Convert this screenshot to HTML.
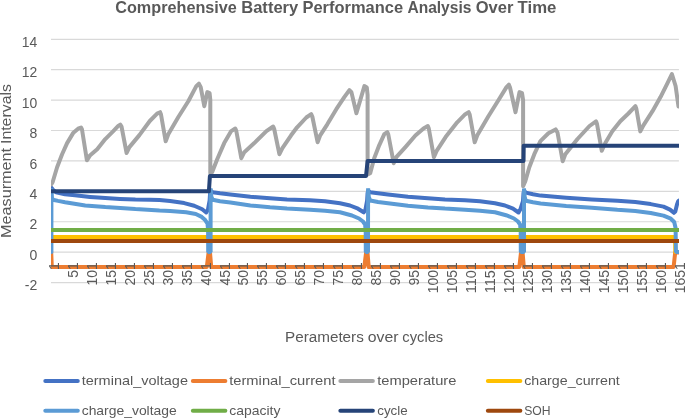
<!DOCTYPE html>
<html lang="en"><head><meta charset="utf-8"><title>Comprehensive Battery Performance Analysis Over Time</title>
<style>html,body{margin:0;padding:0;background:#fff}.t{font-family:"Liberation Sans",sans-serif}body{width:685px;height:418px;overflow:hidden}</style></head>
<body>
<svg width="685" height="418" viewBox="0 0 685 418" style="display:block">
<rect width="685" height="418" fill="#fff"/>
<line x1="51.0" x2="678.9" y1="282.56" y2="282.56" stroke="#D9D9D9" stroke-width="1.2"/>
<line x1="51.0" x2="678.9" y1="252.15" y2="252.15" stroke="#D9D9D9" stroke-width="1.2"/>
<line x1="51.0" x2="678.9" y1="221.74" y2="221.74" stroke="#D9D9D9" stroke-width="1.2"/>
<line x1="51.0" x2="678.9" y1="191.33" y2="191.33" stroke="#D9D9D9" stroke-width="1.2"/>
<line x1="51.0" x2="678.9" y1="160.92" y2="160.92" stroke="#D9D9D9" stroke-width="1.2"/>
<line x1="51.0" x2="678.9" y1="130.51" y2="130.51" stroke="#D9D9D9" stroke-width="1.2"/>
<line x1="51.0" x2="678.9" y1="100.10" y2="100.10" stroke="#D9D9D9" stroke-width="1.2"/>
<line x1="51.0" x2="678.9" y1="69.69" y2="69.69" stroke="#D9D9D9" stroke-width="1.2"/>
<line x1="51.0" x2="678.9" y1="39.28" y2="39.28" stroke="#D9D9D9" stroke-width="1.2"/>
<clipPath id="pc"><rect x="51.0" y="30" width="627.9" height="260"/></clipPath>
<g clip-path="url(#pc)" fill="none" stroke-linejoin="round" stroke-linecap="round">
<path d="M51.2,187.5 L53.0,189.8 L56.0,192.2 L65.0,194.2 L75.0,195.3 L90.0,196.9 L98.0,197.6 L105.3,198.1 L120.0,198.9 L135.4,199.5 L150.0,199.7 L159.5,200.1 L170.1,201.1 L184.2,203.1 L194.2,205.7 L202.2,209.3 L206.2,212.5 L207.9,209.9 L209.6,200.6 L210.1,193.0 L210.7,190.8 L212.7,192.2 L220.0,193.3 L230.4,194.5 L250.4,196.7 L270.0,198.3 L287.0,199.5 L310.0,200.3 L325.0,201.3 L340.0,203.2 L350.0,205.5 L358.0,208.7 L363.7,212.3 L365.4,209.9 L367.1,200.6 L367.6,193.0 L368.2,190.8 L370.2,192.2 L378.0,193.3 L388.0,194.5 L408.0,196.7 L428.0,198.3 L445.0,199.5 L465.0,200.3 L480.0,201.3 L495.0,203.2 L505.0,205.5 L513.0,208.7 L518.5,212.5 L520.4,209.3 L523.0,201.2 L523.5,193.0 L524.1,190.8 L525.8,192.6 L533.0,194.3 L540.6,195.6 L566.2,197.7 L591.8,199.5 L617.4,200.8 L635.3,202.0 L650.7,204.1 L663.5,206.6 L670.0,209.6 L673.9,212.8 L675.3,211.5 L677.0,204.5 L678.2,201.3 L678.9,200.5" stroke="#4472C4" stroke-width="4"/>
<path d="M51.2,252.0 L51.8,267.0 L206.8,267.0 L208.6,252.5 L210.0,252.5 L211.2,267.0 L364.3,267.0 L366.1,252.5 L367.5,252.5 L368.7,267.0 L519.3,267.0 L521.0,252.5 L522.6,252.5 L523.8,267.0 L673.6,267.0 L675.2,252.5 L678.9,252.5" stroke="#ED7D31" stroke-width="4"/>
<path d="M51.2,184.5 L52.6,182.3 L57.1,167.2 L62.1,154.2 L67.1,143.1 L73.1,133.1 L78.1,128.7 L81.0,127.5 L82.0,129.5 L86.9,160.3 L90.2,155.2 L97.2,149.2 L105.3,139.1 L113.3,131.1 L118.0,126.2 L120.3,124.6 L121.5,126.5 L126.6,153.0 L129.4,147.1 L139.4,135.1 L149.8,121.0 L157.1,113.6 L160.1,112.2 L161.0,114.5 L165.7,141.3 L168.3,134.2 L178.2,117.2 L188.3,101.2 L196.3,86.1 L198.9,83.7 L200.7,87.1 L204.3,106.2 L207.3,92.1 L209.6,93.1 L210.3,100.0 L210.3,173.3 L212.1,172.3 L217.2,159.2 L224.2,143.1 L231.2,131.1 L235.3,128.5 L236.3,131.0 L241.3,158.2 L244.3,152.2 L254.3,143.1 L266.4,131.1 L273.2,126.5 L274.2,129.0 L279.4,154.2 L282.4,148.1 L291.1,135.3 L297.1,127.3 L306.3,117.5 L311.2,114.2 L312.3,116.5 L317.6,142.2 L320.2,135.3 L327.3,124.3 L336.3,109.2 L344.3,97.1 L349.4,90.1 L351.4,92.1 L356.4,113.2 L364.4,86.1 L366.8,87.5 L367.6,95.0 L367.6,174.5 L370.2,173.3 L374.2,158.2 L379.3,145.1 L384.3,134.1 L387.3,132.1 L388.3,134.5 L393.7,163.2 L396.3,157.2 L405.4,147.1 L415.4,135.5 L423.5,128.4 L427.8,126.0 L428.8,128.5 L433.9,157.2 L436.5,151.2 L445.6,137.1 L457.2,122.3 L465.3,114.2 L468.7,112.2 L469.7,114.5 L474.7,142.3 L477.3,135.3 L488.4,116.2 L498.4,100.2 L506.5,87.1 L508.9,84.7 L510.0,87.5 L515.5,112.2 L519.5,92.1 L522.0,93.1 L523.1,100.0 L523.1,186.3 L525.3,181.3 L529.3,167.2 L534.3,154.2 L540.4,141.1 L548.4,133.3 L555.6,129.4 L557.5,132.5 L562.7,161.2 L565.3,154.2 L577.5,139.0 L589.5,126.0 L596.0,121.3 L597.0,124.0 L601.8,150.8 L605.3,143.0 L612.3,131.3 L620.3,121.2 L628.4,113.5 L635.4,106.2 L636.4,109.0 L640.3,131.4 L643.4,125.3 L652.5,111.2 L660.5,97.1 L667.5,83.1 L671.9,74.0 L675.6,86.0 L678.5,106.5" stroke="#A5A5A5" stroke-width="4"/>
<path d="M51.0,237.0 L675.1,237.0 L675.3,252.0 L678.9,252.0" stroke="#FFC000" stroke-width="4"/>
<path d="M51.4,252.0 L51.4,188.3 L52.0,198.5 L54.0,200.0 L58.0,200.9 L65.1,202.2 L85.2,205.5 L105.3,207.1 L135.4,209.1 L159.5,210.5 L170.1,210.9 L186.2,212.3 L195.8,214.0 L201.7,216.9 L205.2,220.1 L207.5,223.6 L208.1,230.0 L208.2,252.0 L210.6,252.0 L210.6,188.3 L211.3,196.5 L212.7,199.7 L220.0,201.3 L230.4,202.5 L250.4,205.5 L270.0,207.3 L287.0,208.5 L310.0,209.8 L325.0,210.8 L340.0,212.3 L352.0,215.5 L359.0,218.5 L363.0,221.5 L365.1,224.5 L365.7,231.0 L365.8,252.0 L368.0,252.0 L368.1,188.3 L368.8,197.0 L370.2,200.5 L378.0,202.0 L388.0,203.2 L408.0,205.8 L428.0,207.4 L445.0,208.6 L465.0,209.8 L480.0,210.8 L495.0,212.3 L507.0,215.5 L514.0,218.5 L518.0,221.5 L520.1,224.5 L520.7,231.0 L520.8,252.0 L524.0,252.0 L524.0,188.4 L524.7,197.0 L525.8,200.8 L533.0,202.3 L540.6,203.4 L566.2,205.9 L591.8,207.7 L617.4,209.7 L635.3,211.0 L650.7,213.0 L663.5,215.6 L670.8,218.7 L674.2,222.0 L675.6,228.0 L675.9,252.0 L678.9,252.0" stroke="#5B9BD5" stroke-width="4" stroke-linejoin="bevel"/>
<path d="M51.0,229.9 L678.9,229.9" stroke="#70AD47" stroke-width="4"/>
<path d="M51.0,191.3 L208.9,191.3 L209.9,176.1 L366.0,176.1 L367.6,160.9 L523.5,160.9 L523.7,145.7 L678.9,145.7" stroke="#264478" stroke-width="4"/>
<path d="M51.0,241.1 L678.9,241.1" stroke="#9E480E" stroke-width="4"/>
</g>
<text class="t" font-size="16.1" fill="#595959" y="12.8" font-weight="bold"><tspan x="115.2" textLength="121.7" lengthAdjust="spacingAndGlyphs">Comprehensive</tspan> <tspan x="241.2" textLength="57.1" lengthAdjust="spacingAndGlyphs">Battery</tspan> <tspan x="302.5" textLength="100.6" lengthAdjust="spacingAndGlyphs">Performance</tspan> <tspan x="407.4" textLength="64.0" lengthAdjust="spacingAndGlyphs">Analysis</tspan> <tspan x="475.7" textLength="37.7" lengthAdjust="spacingAndGlyphs">Over</tspan> <tspan x="517.6" textLength="38.8" lengthAdjust="spacingAndGlyphs">Time</tspan></text>
<text x="37.3" y="290.2" class="t" font-size="13.9" fill="#595959" text-anchor="end" textLength="12.5" lengthAdjust="spacingAndGlyphs">-2</text>
<text x="37.3" y="259.8" class="t" font-size="13.9" fill="#595959" text-anchor="end" textLength="7.8" lengthAdjust="spacingAndGlyphs">0</text>
<text x="37.3" y="229.3" class="t" font-size="13.9" fill="#595959" text-anchor="end" textLength="7.8" lengthAdjust="spacingAndGlyphs">2</text>
<text x="37.3" y="198.9" class="t" font-size="13.9" fill="#595959" text-anchor="end" textLength="7.8" lengthAdjust="spacingAndGlyphs">4</text>
<text x="37.3" y="168.5" class="t" font-size="13.9" fill="#595959" text-anchor="end" textLength="7.8" lengthAdjust="spacingAndGlyphs">6</text>
<text x="37.3" y="138.1" class="t" font-size="13.9" fill="#595959" text-anchor="end" textLength="7.8" lengthAdjust="spacingAndGlyphs">8</text>
<text x="37.3" y="107.7" class="t" font-size="13.9" fill="#595959" text-anchor="end" textLength="15.5" lengthAdjust="spacingAndGlyphs">10</text>
<text x="37.3" y="77.3" class="t" font-size="13.9" fill="#595959" text-anchor="end" textLength="15.5" lengthAdjust="spacingAndGlyphs">12</text>
<text x="37.3" y="46.9" class="t" font-size="13.9" fill="#595959" text-anchor="end" textLength="15.5" lengthAdjust="spacingAndGlyphs">14</text>
<text class="t" font-size="15.3" fill="#595959" transform="translate(11.0,238.0) rotate(-90)"><tspan x="0.0" textLength="90.1" lengthAdjust="spacingAndGlyphs">Measurment</tspan> <tspan x="94.0" textLength="59.9" lengthAdjust="spacingAndGlyphs">Intervals</tspan></text>
<text class="t" font-size="15.3" fill="#595959" y="342.3"><tspan x="285.0" textLength="78.8" lengthAdjust="spacingAndGlyphs">Perameters</tspan> <tspan x="367.7" textLength="30.8" lengthAdjust="spacingAndGlyphs">over</tspan> <tspan x="402.3" textLength="40.9" lengthAdjust="spacingAndGlyphs">cycles</tspan></text>
<text transform="translate(58.6,262.2) rotate(-90)" class="t" font-size="13.9" fill="#595959" text-anchor="end" textLength="7.8" lengthAdjust="spacingAndGlyphs">1</text>
<text transform="translate(77.6,262.2) rotate(-90)" class="t" font-size="13.9" fill="#595959" text-anchor="end" textLength="15.5" lengthAdjust="spacingAndGlyphs">51</text>
<text transform="translate(96.6,262.2) rotate(-90)" class="t" font-size="13.9" fill="#595959" text-anchor="end" textLength="23.3" lengthAdjust="spacingAndGlyphs">101</text>
<text transform="translate(115.6,262.2) rotate(-90)" class="t" font-size="13.9" fill="#595959" text-anchor="end" textLength="23.3" lengthAdjust="spacingAndGlyphs">151</text>
<text transform="translate(134.6,262.2) rotate(-90)" class="t" font-size="13.9" fill="#595959" text-anchor="end" textLength="23.3" lengthAdjust="spacingAndGlyphs">201</text>
<text transform="translate(153.5,262.2) rotate(-90)" class="t" font-size="13.9" fill="#595959" text-anchor="end" textLength="23.3" lengthAdjust="spacingAndGlyphs">251</text>
<text transform="translate(172.5,262.2) rotate(-90)" class="t" font-size="13.9" fill="#595959" text-anchor="end" textLength="23.3" lengthAdjust="spacingAndGlyphs">301</text>
<text transform="translate(191.5,262.2) rotate(-90)" class="t" font-size="13.9" fill="#595959" text-anchor="end" textLength="23.3" lengthAdjust="spacingAndGlyphs">351</text>
<text transform="translate(210.5,262.2) rotate(-90)" class="t" font-size="13.9" fill="#595959" text-anchor="end" textLength="23.3" lengthAdjust="spacingAndGlyphs">401</text>
<text transform="translate(229.5,262.2) rotate(-90)" class="t" font-size="13.9" fill="#595959" text-anchor="end" textLength="23.3" lengthAdjust="spacingAndGlyphs">451</text>
<text transform="translate(248.4,262.2) rotate(-90)" class="t" font-size="13.9" fill="#595959" text-anchor="end" textLength="23.3" lengthAdjust="spacingAndGlyphs">501</text>
<text transform="translate(267.4,262.2) rotate(-90)" class="t" font-size="13.9" fill="#595959" text-anchor="end" textLength="23.3" lengthAdjust="spacingAndGlyphs">551</text>
<text transform="translate(286.4,262.2) rotate(-90)" class="t" font-size="13.9" fill="#595959" text-anchor="end" textLength="23.3" lengthAdjust="spacingAndGlyphs">601</text>
<text transform="translate(305.4,262.2) rotate(-90)" class="t" font-size="13.9" fill="#595959" text-anchor="end" textLength="23.3" lengthAdjust="spacingAndGlyphs">651</text>
<text transform="translate(324.4,262.2) rotate(-90)" class="t" font-size="13.9" fill="#595959" text-anchor="end" textLength="23.3" lengthAdjust="spacingAndGlyphs">701</text>
<text transform="translate(343.4,262.2) rotate(-90)" class="t" font-size="13.9" fill="#595959" text-anchor="end" textLength="23.3" lengthAdjust="spacingAndGlyphs">751</text>
<text transform="translate(362.3,262.2) rotate(-90)" class="t" font-size="13.9" fill="#595959" text-anchor="end" textLength="23.3" lengthAdjust="spacingAndGlyphs">801</text>
<text transform="translate(381.3,262.2) rotate(-90)" class="t" font-size="13.9" fill="#595959" text-anchor="end" textLength="23.3" lengthAdjust="spacingAndGlyphs">851</text>
<text transform="translate(400.3,262.2) rotate(-90)" class="t" font-size="13.9" fill="#595959" text-anchor="end" textLength="23.3" lengthAdjust="spacingAndGlyphs">901</text>
<text transform="translate(419.3,262.2) rotate(-90)" class="t" font-size="13.9" fill="#595959" text-anchor="end" textLength="23.3" lengthAdjust="spacingAndGlyphs">951</text>
<text transform="translate(438.2,262.2) rotate(-90)" class="t" font-size="13.9" fill="#595959" text-anchor="end" textLength="31.0" lengthAdjust="spacingAndGlyphs">1001</text>
<text transform="translate(457.2,262.2) rotate(-90)" class="t" font-size="13.9" fill="#595959" text-anchor="end" textLength="31.0" lengthAdjust="spacingAndGlyphs">1051</text>
<text transform="translate(476.2,262.2) rotate(-90)" class="t" font-size="13.9" fill="#595959" text-anchor="end" textLength="31.0" lengthAdjust="spacingAndGlyphs">1101</text>
<text transform="translate(495.2,262.2) rotate(-90)" class="t" font-size="13.9" fill="#595959" text-anchor="end" textLength="31.0" lengthAdjust="spacingAndGlyphs">1151</text>
<text transform="translate(514.2,262.2) rotate(-90)" class="t" font-size="13.9" fill="#595959" text-anchor="end" textLength="31.0" lengthAdjust="spacingAndGlyphs">1201</text>
<text transform="translate(533.1,262.2) rotate(-90)" class="t" font-size="13.9" fill="#595959" text-anchor="end" textLength="31.0" lengthAdjust="spacingAndGlyphs">1251</text>
<text transform="translate(552.1,262.2) rotate(-90)" class="t" font-size="13.9" fill="#595959" text-anchor="end" textLength="31.0" lengthAdjust="spacingAndGlyphs">1301</text>
<text transform="translate(571.1,262.2) rotate(-90)" class="t" font-size="13.9" fill="#595959" text-anchor="end" textLength="31.0" lengthAdjust="spacingAndGlyphs">1351</text>
<text transform="translate(590.1,262.2) rotate(-90)" class="t" font-size="13.9" fill="#595959" text-anchor="end" textLength="31.0" lengthAdjust="spacingAndGlyphs">1401</text>
<text transform="translate(609.1,262.2) rotate(-90)" class="t" font-size="13.9" fill="#595959" text-anchor="end" textLength="31.0" lengthAdjust="spacingAndGlyphs">1451</text>
<text transform="translate(628.0,262.2) rotate(-90)" class="t" font-size="13.9" fill="#595959" text-anchor="end" textLength="31.0" lengthAdjust="spacingAndGlyphs">1501</text>
<text transform="translate(647.0,262.2) rotate(-90)" class="t" font-size="13.9" fill="#595959" text-anchor="end" textLength="31.0" lengthAdjust="spacingAndGlyphs">1551</text>
<text transform="translate(666.0,262.2) rotate(-90)" class="t" font-size="13.9" fill="#595959" text-anchor="end" textLength="31.0" lengthAdjust="spacingAndGlyphs">1601</text>
<text transform="translate(685.0,262.2) rotate(-90)" class="t" font-size="13.9" fill="#595959" text-anchor="end" textLength="31.0" lengthAdjust="spacingAndGlyphs">1651</text>
<line x1="45.30" x2="77.80" y1="381.05" y2="381.05" stroke="#4472C4" stroke-width="4" stroke-linecap="round"/>
<text x="81.7" y="385.4" class="t" font-size="13.6" fill="#595959" textLength="106.3" lengthAdjust="spacingAndGlyphs">terminal_voltage</text>
<line x1="192.85" x2="225.35" y1="381.05" y2="381.05" stroke="#ED7D31" stroke-width="4" stroke-linecap="round"/>
<text x="229.2" y="385.4" class="t" font-size="13.6" fill="#595959" textLength="106.3" lengthAdjust="spacingAndGlyphs">terminal_current</text>
<line x1="340.35" x2="372.85" y1="381.05" y2="381.05" stroke="#A5A5A5" stroke-width="4" stroke-linecap="round"/>
<text x="377.2" y="385.4" class="t" font-size="13.6" fill="#595959" textLength="79.2" lengthAdjust="spacingAndGlyphs">temperature</text>
<line x1="487.85" x2="520.35" y1="381.05" y2="381.05" stroke="#FFC000" stroke-width="4" stroke-linecap="round"/>
<text x="524.2" y="385.4" class="t" font-size="13.6" fill="#595959" textLength="95.6" lengthAdjust="spacingAndGlyphs">charge_current</text>
<line x1="45.30" x2="77.80" y1="410.7" y2="410.7" stroke="#5B9BD5" stroke-width="4" stroke-linecap="round"/>
<text x="81.7" y="415.0" class="t" font-size="13.6" fill="#595959" textLength="95.1" lengthAdjust="spacingAndGlyphs">charge_voltage</text>
<line x1="192.85" x2="225.35" y1="410.7" y2="410.7" stroke="#70AD47" stroke-width="4" stroke-linecap="round"/>
<text x="229.2" y="415.0" class="t" font-size="13.6" fill="#595959" textLength="51.2" lengthAdjust="spacingAndGlyphs">capacity</text>
<line x1="340.35" x2="372.85" y1="410.7" y2="410.7" stroke="#264478" stroke-width="4" stroke-linecap="round"/>
<text x="377.2" y="415.0" class="t" font-size="13.6" fill="#595959" textLength="30.5" lengthAdjust="spacingAndGlyphs">cycle</text>
<line x1="487.85" x2="520.35" y1="410.7" y2="410.7" stroke="#9E480E" stroke-width="4" stroke-linecap="round"/>
<text x="524.2" y="415.0" class="t" font-size="13.6" fill="#595959" textLength="26.4" lengthAdjust="spacingAndGlyphs">SOH</text>
</svg>
</body></html>
